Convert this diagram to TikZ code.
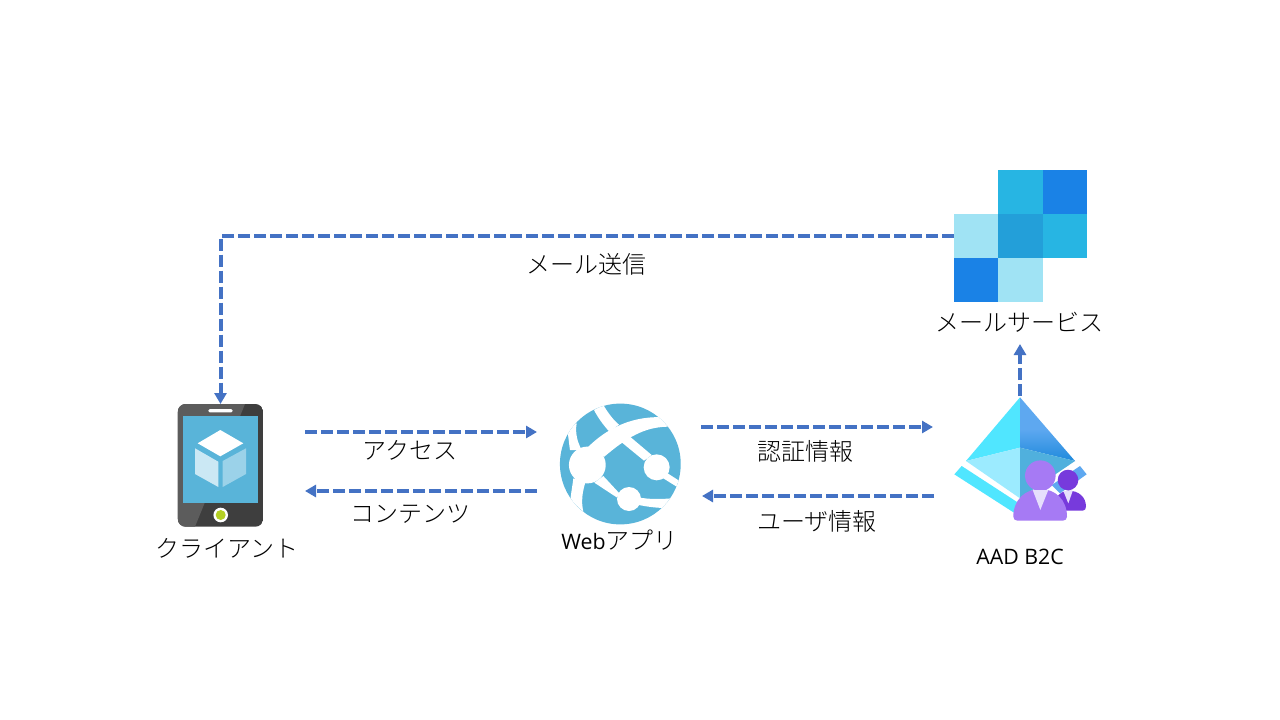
\documentclass[tikz,border=0pt]{standalone}
\usepackage{fontspec}
\setmainfont{Open Sans}
\newfontfamily\cjk{Noto Sans CJK JP Light}
\usetikzlibrary{arrows.meta}
\definecolor{arrowblue}{HTML}{4472C4}
\definecolor{phonelight}{HTML}{5C5C5C}
\definecolor{phonedark}{HTML}{3E3E3E}
\definecolor{azure}{HTML}{59B4D9}
\definecolor{cubeleft}{HTML}{CBE8F4}
\definecolor{cuberight}{HTML}{9BD2E9}
\definecolor{btngreen}{HTML}{B4D023}
\definecolor{cyanA}{HTML}{50E6FF}
\definecolor{cyanB}{HTML}{9CEBFF}
\definecolor{blueA}{HTML}{5EA8F0}
\definecolor{blueB}{HTML}{1F8ADC}
\definecolor{blueC}{HTML}{50B0DD}
\definecolor{purpleA}{HTML}{A67AF4}
\definecolor{purpleB}{HTML}{773ADC}
\definecolor{tie}{HTML}{E6DFFC}
\definecolor{mailA}{HTML}{27B5E3}
\definecolor{mailB}{HTML}{1A82E6}
\definecolor{mailC}{HTML}{A0E3F4}
\definecolor{mailD}{HTML}{239FD9}
\tikzset{
  conn/.style={draw=arrowblue,line width=3.6pt,dash pattern=on 12pt off 4pt,
    -{Triangle[length=11pt,width=12pt,fill=arrowblue]}},
  iconbox/.style={inner sep=0pt,outer sep=0pt,draw=none},
  jalabel/.style={inner sep=0pt,text=black,font=\cjk\fontsize{24}{28}\selectfont},
  latlabel/.style={inner sep=0pt,text=black,font=\fontsize{21.3}{26}\selectfont},
  zoomed/.style={x=0.33333pt,y=-0.33333pt},
}
\begin{document}
\begin{tikzpicture}[x=1pt,y=-1pt]
\useasboundingbox (0,0) rectangle (1280,720);
\fill[white] (0,0) rectangle (1280,720);

% mail service icon
\fill[mailA] (998.3,170) rectangle (1042.7,214);
\fill[mailB] (1042.7,170) rectangle (1087,214);
\fill[mailC] (954,214) rectangle (998.3,258);
\fill[mailD] (998.3,214) rectangle (1042.7,258);
\fill[mailA] (1042.7,214) rectangle (1087,258);
\fill[mailB] (954,258) rectangle (998.3,302);
\fill[mailC] (998.3,258) rectangle (1042.7,302);
\node[iconbox,minimum width=133pt,minimum height=132pt] (mail) at (1020.5,236) {};

% phone icon
\node[iconbox,minimum width=85.6pt,minimum height=122.7pt] (phone) at (220.5,465.35) {};
\begin{scope}
\clip[rounded corners=8pt] (177.7,404) rectangle (263.3,526.7);
\fill[phonedark] (177.7,404) rectangle (263.3,526.7);
\fill[phonelight] (177.7,404) -- (245,404) -- (195,526.7) -- (177.7,526.7) -- cycle;
\end{scope}
\fill[azure] (183.3,416) rectangle (257.7,503.3);
\fill[white,rounded corners=1.5pt] (208.3,409) rectangle (232.7,412.3);
\fill[white] (220.7,515) circle[radius=7.3pt];
\fill[btngreen] (220.7,515) circle[radius=5pt];
\fill[white] (220.3,430) -- (243.3,443.3) -- (220.3,456.3) -- (197.7,443.3) -- cycle;
\fill[cubeleft] (195,448.3) -- (218.3,461.7) -- (218.3,487) -- (195,474) -- cycle;
\fill[cuberight] (222.7,461) -- (246,448.3) -- (246,474) -- (222.7,487) -- cycle;

% web app icon
\node[iconbox,minimum width=121pt,minimum height=121pt] (webapp) at (620.5,464) {};
\begin{scope}[shift={(545,390)},zoomed]
\fill[azure] (226,222) circle[radius=60.4pt];
\begin{scope}
\clip (226,222) circle[radius=60.4pt];
\fill[white] (127,225) circle[radius=18.4pt];
\fill[white] (335,232) circle[radius=13pt];
\fill[white] (252,327) circle[radius=12pt];
\fill[white] (147,60) -- (175,45) .. controls (190,70) and (205,90) .. (222,104)
  -- (193,125) .. controls (175,105) and (160,85) .. (147,60) -- cycle;
\fill[white] (125,175) .. controls (165,135) and (240,75) .. (360,82)
  -- (375,110) .. controls (310,110) and (260,130) .. (178,200) -- cycle;
\fill[white] (255,140) -- (320,195) -- (297,212) -- (230,157) -- cycle;
\fill[white] (360,245) -- (410,277) -- (395,290) -- (350,262) -- cycle;
\fill[white] (60,100) -- (95,100) .. controls (90,130) and (97,155) .. (110,180)
  -- (75,180) .. controls (70,150) and (70,120) .. (60,100) -- cycle;
\fill[white] (85,265) .. controls (82,290) and (78,310) .. (76,330)
  -- (115,365) .. controls (108,335) and (112,305) .. (122,275) -- cycle;
\fill[white] (175,258) -- (225,312) -- (215,322) -- (148,278) -- cycle;
\fill[white] (280,322) .. controls (310,328) and (345,328) .. (380,325)
  -- (355,354) .. controls (330,353) and (305,350) .. (282,345) -- cycle;
\end{scope}
\end{scope}

% AAD B2C icon
\node[iconbox,minimum width=130pt,minimum height=126pt] (aad) at (1020,459) {};
\begin{scope}[shift={(940,385)},zoomed]
\fill[cyanA] (65,243) -- (43,268) -- (225,385) -- (245,360) -- cycle;
\fill[blueA] (420,243) -- (440,268) -- (360,325) -- (335,300) -- cycle;
\fill[cyanA] (240,37) -- (78,228) -- (240,188) -- cycle;
\shade[top color=blueA,bottom color=blueB,middle color=blueA] (240,37) -- (405,228) -- (240,188) -- cycle;
\fill[cyanB] (78,228) -- (240,188) -- (240,340) -- cycle;
\fill[blueC] (240,188) -- (405,228) -- (240,340) -- cycle;
% small person
\fill[purpleB] (340,377) -- (350,340) .. controls (355,325) and (372,317) .. (385,317)
  .. controls (415,317) and (438,335) .. (438,365)
  .. controls (438,372) and (434,377) .. (428,377) -- cycle;
\fill[purpleB] (384,285) circle[radius=10.3pt];
\fill[tie] (370,318) -- (398,318) -- (385,355) -- cycle;
% main person
\fill[purpleA] (220,395) .. controls (220,345) and (255,312) .. (300,312)
  .. controls (347,312) and (381,345) .. (381,395)
  .. controls (381,402) and (376,407) .. (369,407)
  -- (232,407) .. controls (225,407) and (220,402) .. (220,395) -- cycle;
\fill[purpleA] (301,272) circle[radius=15.3pt];
\fill[tie] (278,315) -- (325,315) -- (301,375) -- cycle;
\end{scope}

% labels
\node[jalabel] (lblmailsend) at (586,264) {メール送信};
\node[jalabel] (lblmailsvc) at (1019,322) {メールサービス};
\node[jalabel] (lblclient) at (227,548) {クライアント};
\node[jalabel] (lblaccess) at (410,450) {アクセス};
\node[jalabel] (lblcontent) at (410,514) {コンテンツ};
\node[latlabel] (lblweb) at (619.5,540) {Web{\cjk\fontsize{24}{26}\selectfont アプリ}};
\node[jalabel] (lblauth) at (805,451) {認証情報};
\node[jalabel] (lbluser) at (817,521) {ユーザ情報};
\node[latlabel] (lblaad) at (1020,557) {AAD B2C};

% connector ends
\coordinate (accA) at (305,432);
\coordinate (accB) at (537,432);
\coordinate (conA) at (537,491);
\coordinate (conB) at (305,491);
\coordinate (authA) at (701,427);
\coordinate (authB) at (933,427);
\coordinate (userA) at (934,496);
\coordinate (userB) at (702,496);
\coordinate (upA) at (1020,396);
\coordinate (upB) at (1020,344);

% connectors
\draw[conn,line width=4pt] (mail.west) -| (phone.north);
\draw[conn] (accA) -- (accB);
\draw[conn] (conA) -- (conB);
\draw[conn] (authA) -- (authB);
\draw[conn] (userA) -- (userB);
\draw[conn,line width=4pt] (upA) -- (upB);
\end{tikzpicture}
\end{document}
